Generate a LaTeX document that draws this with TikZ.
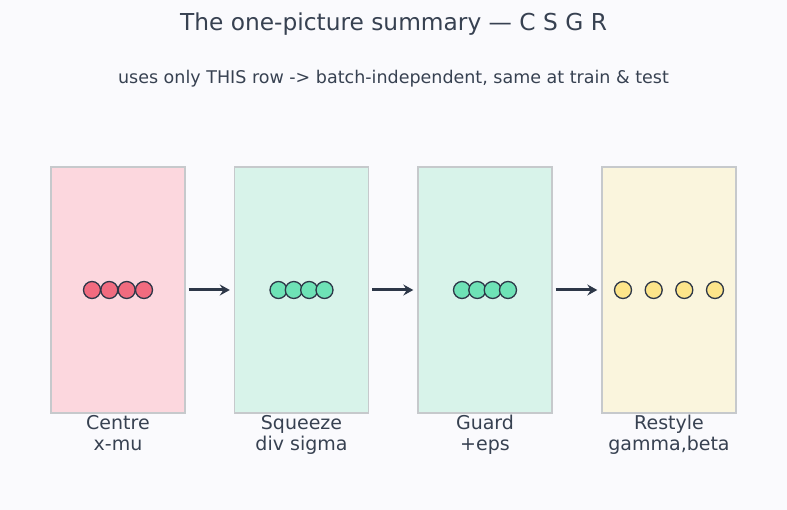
\documentclass[tikz,border=0pt]{standalone}
\usepackage{fontspec}
\setmainfont{DejaVu Sans}
\usepackage{tikz}
\usetikzlibrary{arrows.meta,positioning}
\definecolor{bgcol}{HTML}{FAFAFD}
\definecolor{inkcol}{HTML}{374151}
\definecolor{arrowcol}{HTML}{2D3748}
\definecolor{edgecol}{HTML}{C6C9CC}
\definecolor{pinkfill}{HTML}{FCD7DE}
\definecolor{mintfill}{HTML}{D8F3EA}
\definecolor{creamfill}{HTML}{FAF5DD}
\definecolor{reddot}{HTML}{F16B7F}
\definecolor{greendot}{HTML}{6EE2B6}
\definecolor{yellowdot}{HTML}{FDE58A}
\tikzset{
	stage/.style = {draw=edgecol, line width=1.4pt, minimum width=134pt,
		minimum height=246pt, inner sep=0pt},
	dot/.style = {circle, draw=arrowcol, line width=1.3pt, minimum size=17pt,
		inner sep=0pt},
	caption/.style = {below=0pt, inner sep=1pt, align=center, text=inkcol,
		font=\fontsize{19}{21}\selectfont},
	flow/.style = {-{Stealth[length=10pt,width=11pt,inset=3.5pt]}, draw=arrowcol,
		line width=3pt}
}

\begin{document}
\begin{tikzpicture}[x=1pt,y=-1pt]
\fill[bgcol] (0,0) rectangle (787,510);
\useasboundingbox (0,0) rectangle (787,510);

\node[text=inkcol, font=\fontsize{23.3}{27}\selectfont] (title) at (393.5,24)
	{The one-picture summary — C S G R};
\node[text=inkcol, font=\fontsize{17.5}{20}\selectfont] (subtitle) at (393.5,79)
	{uses only THIS row -> batch-independent, same at train \& test};

% the four stages
\node[stage, fill=pinkfill] (centre) at (118,290) {};
\node[stage, fill=mintfill] (squeeze) at (301.5,290) {};
\node[stage, fill=mintfill] (guard) at (485,290) {};
\node[stage, fill=creamfill] (restyle) at (669,290) {};

\node[caption] (centrelbl) at (centre.south) {Centre\\x-mu};
\node[caption] (squeezelbl) at (squeeze.south) {Squeeze\\div sigma};
\node[caption] (guardlbl) at (guard.south) {Guard\\+eps};
\node[caption] (restylelbl) at (restyle.south) {Restyle\\gamma,beta};

% the row of values in each stage
\foreach \i/\dx in {1/-26,2/-8.7,3/8.7,4/26}
	\node[dot, fill=reddot] (c\i) at ([xshift=\dx pt]centre.center) {};
\foreach \i/\dx in {1/-23,2/-7.7,3/7.7,4/23}
	\node[dot, fill=greendot] (s\i) at ([xshift=\dx pt]squeeze.center) {};
\foreach \i/\dx in {1/-23,2/-7.7,3/7.7,4/23}
	\node[dot, fill=greendot] (g\i) at ([xshift=\dx pt]guard.center) {};
\foreach \i/\dx in {1/-46,2/-15.3,3/15.3,4/46}
	\node[dot, fill=yellowdot] (r\i) at ([xshift=\dx pt]restyle.center) {};

\draw[flow] ([xshift=3pt]centre.east) -- ([xshift=-4pt]squeeze.west);
\draw[flow] ([xshift=3pt]squeeze.east) -- ([xshift=-4pt]guard.west);
\draw[flow] ([xshift=3pt]guard.east) -- ([xshift=-4pt]restyle.west);
\end{tikzpicture}
\end{document}
